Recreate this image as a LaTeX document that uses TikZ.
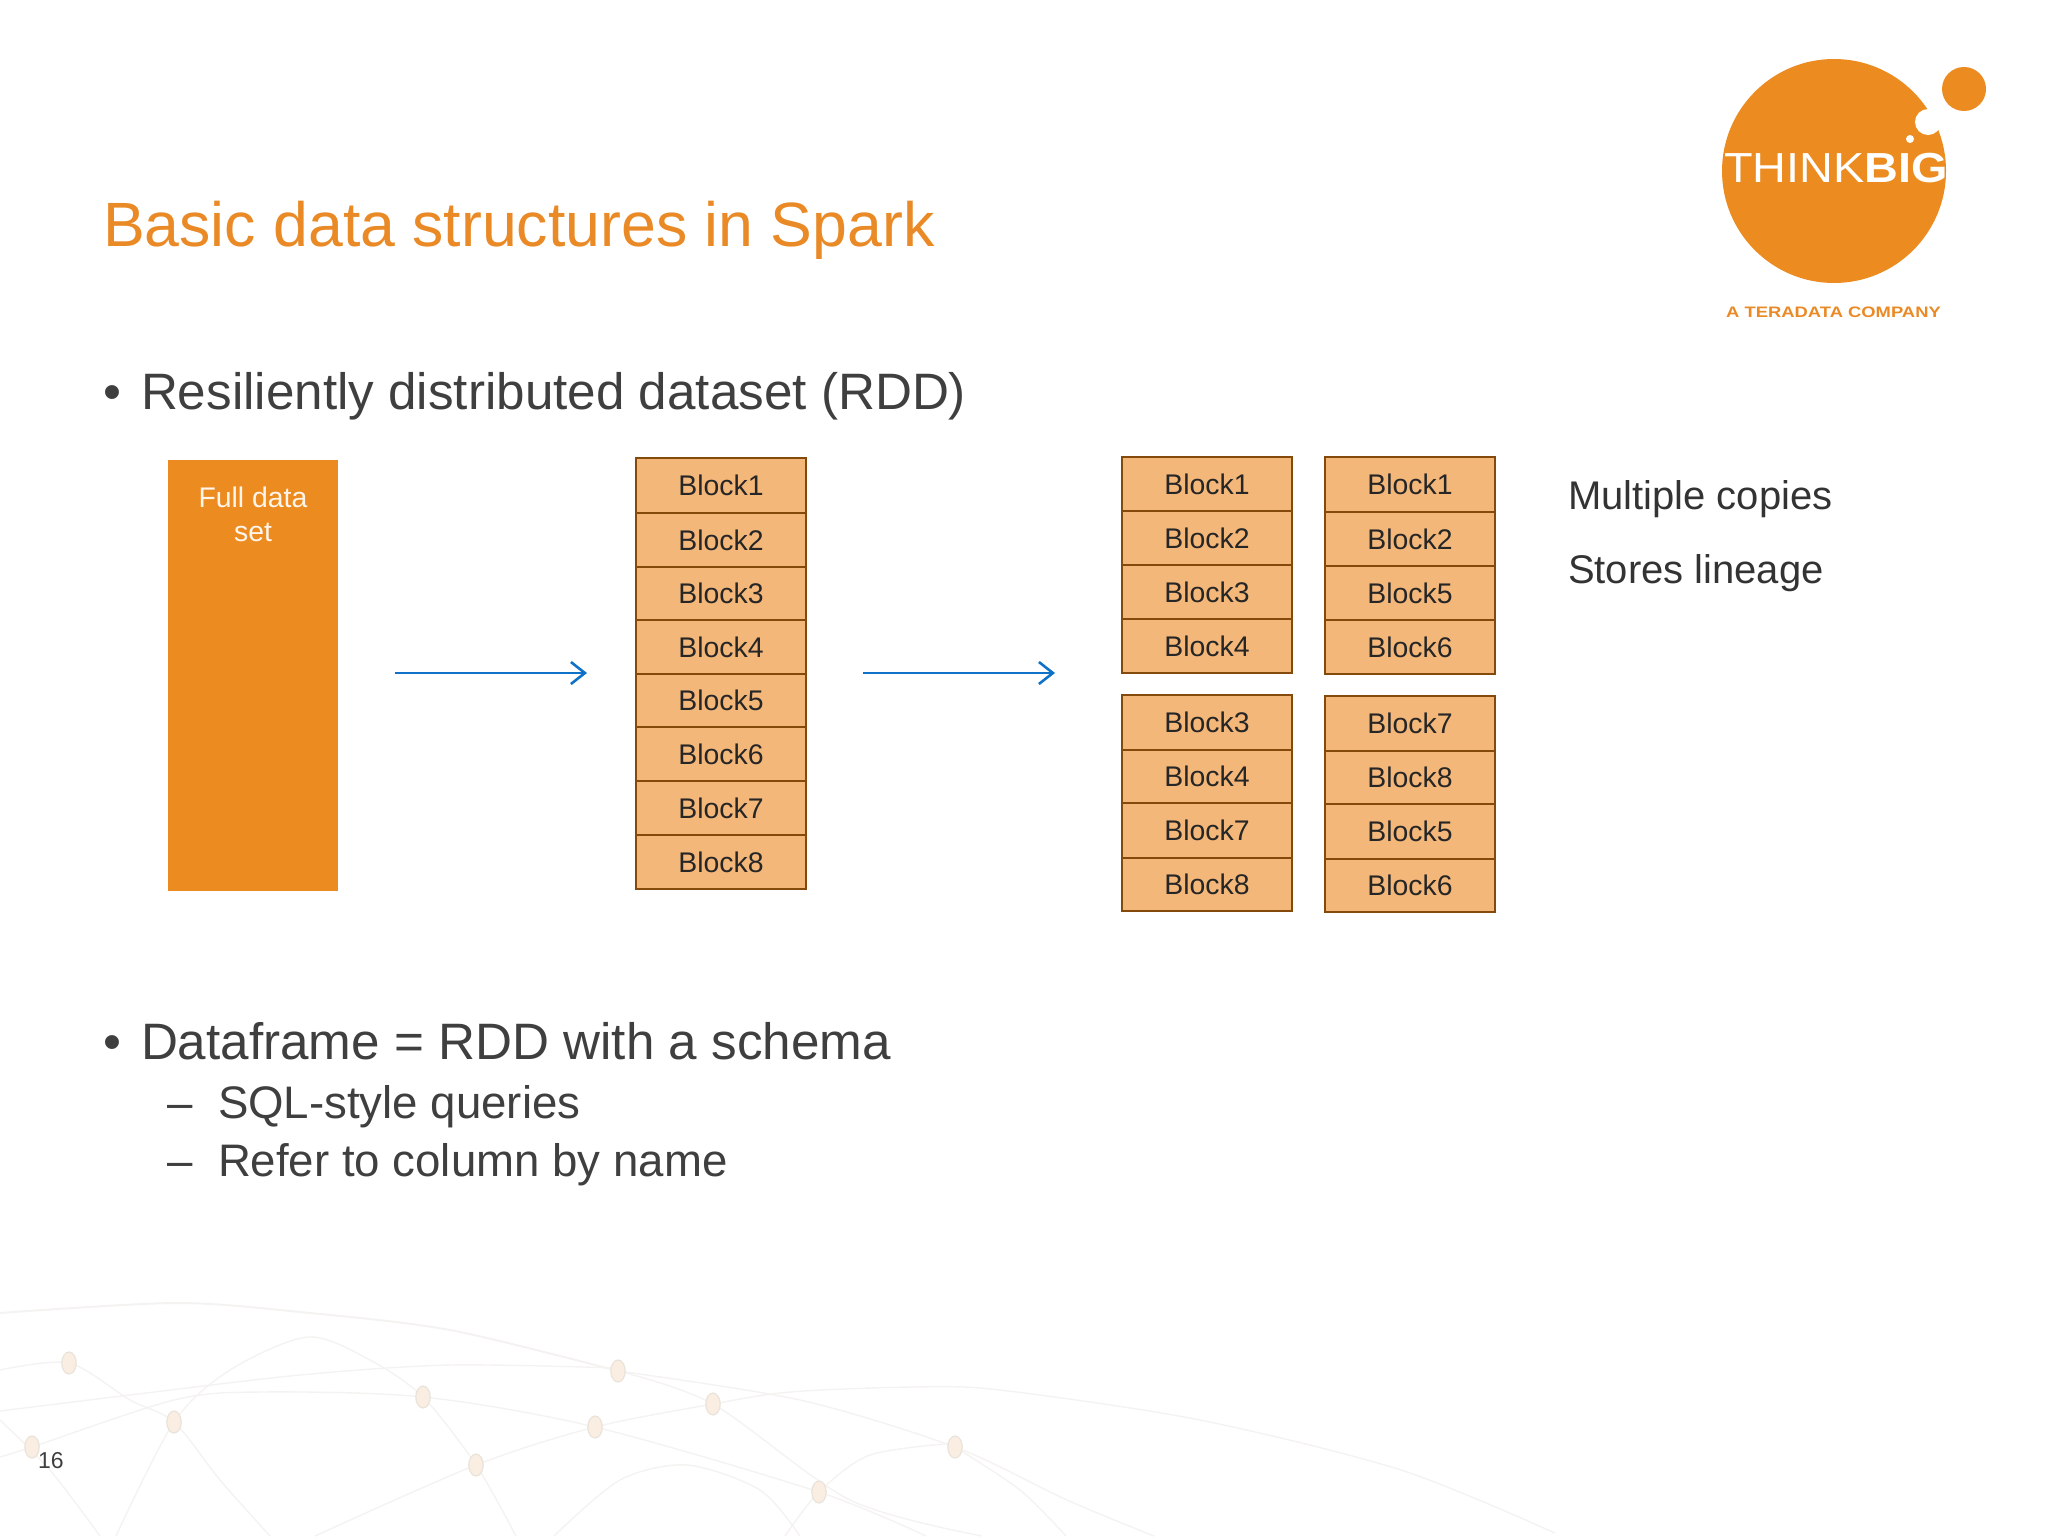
\documentclass[tikz,border=0pt]{standalone}
\usepackage{fontspec}
\setmainfont{Liberation Sans}
\definecolor{orangefill}{HTML}{EC8B1F}
\definecolor{titleorange}{HTML}{E98A26}
\definecolor{blockfill}{HTML}{F4B77A}
\definecolor{blockedge}{HTML}{834A0B}
\definecolor{bodytext}{HTML}{3F3F3F}
\definecolor{arrowblue}{HTML}{0F72C8}
\definecolor{curvegrey}{HTML}{F5F3F1}
\definecolor{beadfill}{HTML}{FAEDE1}
\definecolor{beadedge}{HTML}{E9E3DB}
\newcommand{\fsz}[1]{\fontsize{#1}{#1}\selectfont}
\tikzset{
  x=0.5pt,y=-0.5pt,
  every node/.style={inner sep=0pt,outer sep=0pt},
  blockbox/.style={draw=blockedge,fill=blockfill,line width=1pt,minimum width=85pt,text=black!85,font=\fsz{14.2}},
  lowtext/.style={anchor=base west,text=bodytext},
  titletext/.style={lowtext,text=titleorange,font=\fsz{31.3}},
  bigtext/.style={lowtext,font=\fsz{25.6}},
  subtext/.style={lowtext,font=\fsz{22.8}},
  notetext/.style={lowtext,text=black!80,font=\fsz{20}},
  flowarrow/.style={draw=arrowblue,line width=1.3pt,-{Straight Barb[length=7pt,width=11pt,line width=1.3pt]}},
  bgcurve/.style={draw=curvegrey,line width=0.7pt},
  bead/.style={fill=beadfill,draw=beadedge,line width=0.6pt},
}
\usetikzlibrary{arrows.meta}
\begin{document}
\begin{tikzpicture}
\useasboundingbox (0,0) rectangle (2048,1536);
% background network
\draw[bgcurve,line width=1pt] plot[smooth] coordinates {(0,1313) (175,1303) (300,1312) (450,1330) (618,1371)};
\draw[bgcurve] plot[smooth] coordinates {(0,1370) (69,1363) (130,1400) (174,1422) (220,1480) (270,1536)};
\draw[bgcurve] plot[smooth] coordinates {(0,1411) (130,1395) (300,1375) (450,1365) (618,1368)};
\draw[bgcurve] plot[smooth] coordinates {(0,1457) (32,1447) (174,1400) (260,1392) (423,1397) (595,1427) (819,1492) (926,1536)};
\draw[bgcurve] plot[smooth] coordinates {(116,1536) (174,1422) (230,1370) (308,1337) (370,1360) (423,1397) (476,1465) (516,1536)};
\draw[bgcurve] plot[smooth] coordinates {(0,1420) (50,1470) (100,1536)};
\draw[bgcurve] plot[smooth] coordinates {(315,1536) (476,1465) (595,1427) (713,1404) (790,1392) (912,1387) (1000,1390) (1200,1420) (1401,1470) (1555,1533)};
\draw[bgcurve] plot[smooth] coordinates {(618,1371) (800,1400) (955,1447) (1067,1500) (1154,1536)};
\draw[bgcurve] plot[smooth] coordinates {(618,1371) (713,1404) (850,1500) (982,1536)};
\draw[bgcurve] plot[smooth] coordinates {(554,1536) (620,1480) (687,1465) (760,1490) (800,1536)};
\draw[bgcurve] plot[smooth] coordinates {(785,1536) (819,1492) (870,1455) (955,1443)};
\draw[bgcurve] plot[smooth] coordinates {(955,1447) (1020,1490) (1066,1536)};
\foreach \px/\py in {69/1363,174/1422,32/1447,423/1397,618/1371,713/1404,595/1427,476/1465,819/1492,955/1447}
  \draw[bead] (\px,\py) ellipse [x radius=3.6pt,y radius=5.5pt];
% logo
\fill[orangefill] (1834,171) circle [radius=56pt];
\fill[orangefill] (1964,89) circle [radius=11pt];
\fill[white] (1928,122) circle [radius=6.5pt];
\fill[white] (1910,139) circle [radius=2pt];
\node (logotext) [anchor=base,text=white,font=\fsz{21}] at (1836,182) {\scalebox{1.115}[1]{THINK\textbf{BIG}}};
\node (logosub) [anchor=base,text=titleorange,font=\bfseries\fsz{7.6}] at (1833.5,317) {\scalebox{1.21}[1]{A TERADATA COMPANY}};
% title and text
\node (title) [titletext] at (103,246.5) {Basic data structures in Spark};
\node (bulletone) [bigtext] at (103,409) {•};
\node (rdd) [bigtext] at (141,409) {Resiliently distributed dataset (RDD)};
\node (bullettwo) [bigtext] at (103,1059) {•};
\node (dframe) [bigtext] at (141,1059) {Dataframe = RDD with a schema};
\node (dashone) [subtext] at (167,1118) {–};
\node (sql) [subtext] at (218,1118) {SQL-style queries};
\node (dashtwo) [subtext] at (167,1176) {–};
\node (refer) [subtext] at (218,1176) {Refer to column by name};
\node (copies) [notetext] at (1568,509.5) {Multiple copies};
\node (lineage) [notetext] at (1568,583.5) {Stores lineage};
\node (pagenum) [lowtext,font=\fsz{11.5}] at (38,1468) {16};
% full data set
\node (full) [fill=orangefill,minimum width=85pt,minimum height=215.5pt] at (253,675.5) {};
\node (fulla) [anchor=base,text=white!92!orange,font=\fsz{14.2}] at (253,507) {Full data};
\node (fullb) [anchor=base,text=white!92!orange,font=\fsz{14.2}] at (253,541) {set};
% block columns
\foreach \cx/\tname/\ytop/\ybot/\lab in {
 721/a1/458/513/Block1,721/a2/513/567/Block2,721/a3/567/620/Block3,721/a4/620/674/Block4,
 721/a5/674/727/Block5,721/a6/727/781/Block6,721/a7/781/835/Block7,721/a8/835/889/Block8,
 1207/b1/457/511/Block1,1207/b2/511/565/Block2,1207/b3/565/619/Block3,1207/b4/619/673/Block4,
 1207/c1/695/750/Block3,1207/c2/750/803/Block4,1207/c3/803/858/Block7,1207/c4/858/911/Block8,
 1410/d1/457/512/Block1,1410/d2/512/566/Block2,1410/d3/566/620/Block5,1410/d4/620/674/Block6,
 1410/e1/696/751/Block7,1410/e2/751/804/Block8,1410/e3/804/859/Block5,1410/e4/859/912/Block6}
{
  \pgfmathsetmacro{\cy}{(\ytop+\ybot)/2}
  \pgfmathsetmacro{\hh}{(\ybot-\ytop)/2}
  \node (\tname) [blockbox,minimum height=\hh pt] at (\cx,\cy) {\lab};
}
% arrows
\coordinate (ar1s) at (395,673);
\coordinate (ar1e) at (587,673);
\coordinate (ar2s) at (863,673);
\coordinate (ar2e) at (1055,673);
\draw[flowarrow] (ar1s) -- (ar1e);
\draw[flowarrow] (ar2s) -- (ar2e);
\end{tikzpicture}
\end{document}
